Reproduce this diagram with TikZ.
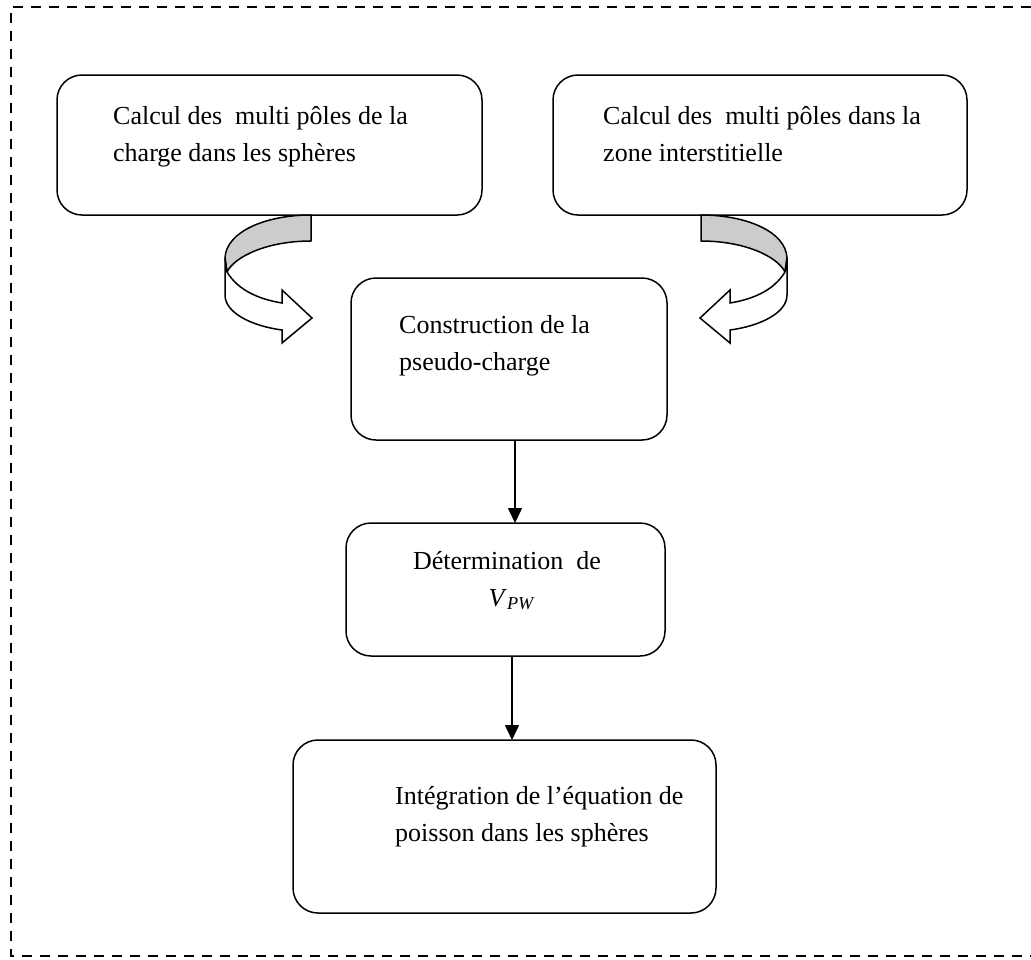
\documentclass[tikz,border=0pt]{standalone}
\usepackage{fontspec}
\setmainfont{Liberation Serif}
\usetikzlibrary{arrows.meta}
\begin{document}
\begin{tikzpicture}[x=1pt,y=-1pt,
  box/.style={draw,line width=1.5pt,rounded corners=25pt},
  txt/.style={anchor=base west,inner sep=0pt,font=\fontsize{26}{37}\selectfont},
  arr/.style={line width=1.5pt,-{Triangle[length=15pt,width=14pt]}},
  band/.style={draw,line width=1.5pt,line join=round,fill=black!20},
  ribbon/.style={draw,line width=1.5pt,line join=miter,fill=white}]
\useasboundingbox (0,0) rectangle (1031,959);
\draw[line width=2pt,dash pattern=on 10pt off 8pt] (1031,7) -- (11,7) -- (11,956) -- (1031,956);
% boxes
\draw[box] (57,75) rectangle (482,215);
\draw[box] (553,75) rectangle (967,215);
\draw[box] (351,278) rectangle (667,440);
\coordinate (b3) at (515,440);
\draw[box] (346,523) rectangle (665,656);
\coordinate (b4t) at (515,523);
\coordinate (b4) at (512,656);
\draw[box] (293,740) rectangle (716,913);
\coordinate (b5) at (512,740);
% texts
\node[txt] (t1a) at (113,124) {Calcul des\ \ multi pôles de la};
\node[txt] (t1b) at (113,161) {charge dans les sphères};
\node[txt] (t2a) at (603,124) {Calcul des\ \ multi pôles dans la};
\node[txt] (t2b) at (603,161) {zone interstitielle};
\node[txt] (t3a) at (399,333) {Construction de la};
\node[txt] (t3b) at (399,370) {pseudo-charge};
\node[txt,anchor=base] (t4a) at (507,569) {Détermination\ \ de};
\node[txt,anchor=base] (t4b) at (512,606) {\textit{V}\textsubscript{\textit{PW}}};
\node[txt] (t5a) at (395,804) {Intégration de l’équation de};
\node[txt] (t5b) at (395,841) {poisson dans les sphères};
% straight arrows
\draw[arr] (b3) -- (b4t);
\draw[arr] (b4) -- (b5);
% curved arrows
\foreach \s/\d in {1/0, -1/1012} {
\begin{scope}[xshift=\d pt, xscale=\s]
\draw[band] (311,215) .. controls (265,215) and (226,232) .. (225,258)
  -- (227,272) .. controls (235,256) and (268,241) .. (311,241) -- cycle;
\draw[ribbon] (227,272) .. controls (238,290) and (258,299) .. (282,303)
  -- (282,290) -- (312,318) -- (282,343) -- (282,330)
  .. controls (252,326) and (225,313) .. (225,295) -- (225,258) -- cycle;
\end{scope}}
\end{tikzpicture}
\end{document}
